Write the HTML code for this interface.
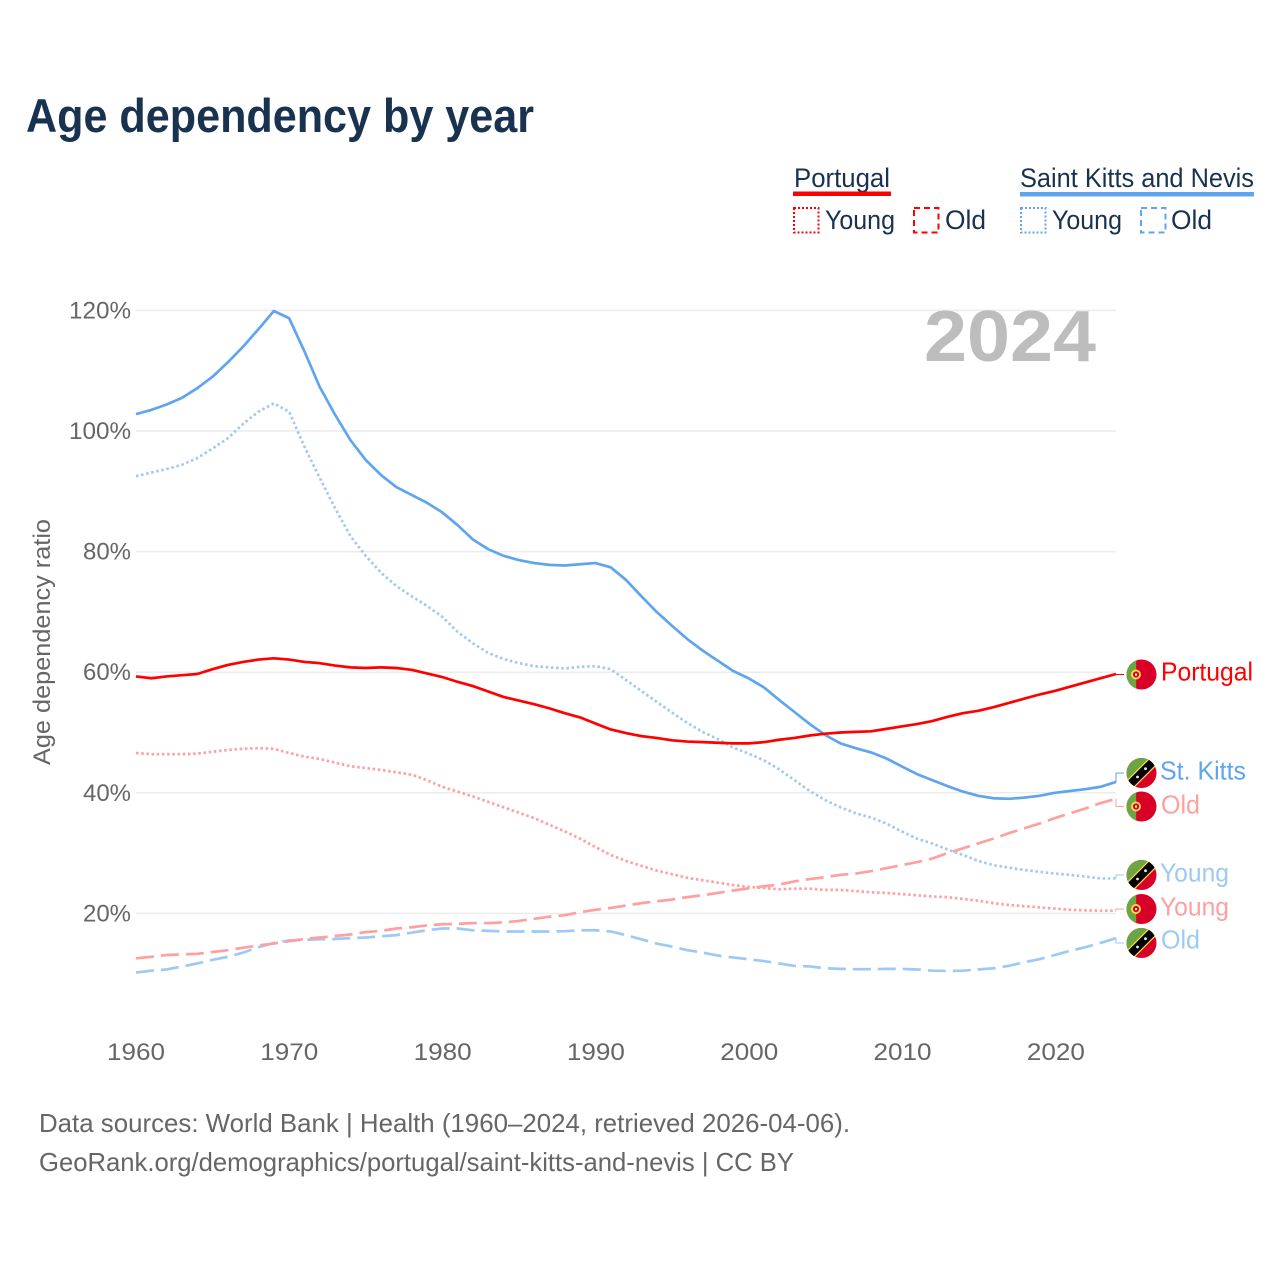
<!DOCTYPE html>
<html lang="en">
<head>
<meta charset="utf-8">
<title>Age dependency by year</title>
<style>
html,body{margin:0;padding:0;background:#fff;}
svg{display:block;font-family:"Liberation Sans",sans-serif;}
</style>
</head>
<body>
<svg id="chart" width="1280" height="1280" viewBox="0 0 1280 1280" xmlns="http://www.w3.org/2000/svg">
  <rect width="1280" height="1280" fill="#fff"/>
  <text x="26" y="132" font-size="47" font-weight="bold" fill="#18324f" textLength="508" lengthAdjust="spacingAndGlyphs">Age dependency by year</text>

  <g font-size="27" fill="#18324f">
    <text x="794" y="187" textLength="96" lengthAdjust="spacingAndGlyphs">Portugal</text>
    <rect x="793" y="191.5" width="98" height="4.5" fill="#ff0000"/>
    <rect x="794" y="208" width="24.5" height="24.5" fill="none" stroke="#ff0000" stroke-width="2" stroke-dasharray="2 2"/>
    <text x="825" y="229" textLength="70" lengthAdjust="spacingAndGlyphs">Young</text>
    <rect x="914" y="208" width="24.5" height="24.5" fill="none" stroke="#ff0000" stroke-width="2" stroke-dasharray="6 4"/>
    <text x="945" y="229" textLength="41" lengthAdjust="spacingAndGlyphs">Old</text>
    <text x="1020" y="187" textLength="234" lengthAdjust="spacingAndGlyphs">Saint Kitts and Nevis</text>
    <rect x="1020" y="192" width="234" height="4.5" fill="#5fa5ee"/>
    <rect x="1021" y="208" width="24.5" height="24.5" fill="none" stroke="#5fa5ee" stroke-width="2" stroke-dasharray="2 2"/>
    <text x="1052" y="229" textLength="70" lengthAdjust="spacingAndGlyphs">Young</text>
    <rect x="1141" y="208" width="24.5" height="24.5" fill="none" stroke="#5fa5ee" stroke-width="2" stroke-dasharray="6 4"/>
    <text x="1171" y="229" textLength="41" lengthAdjust="spacingAndGlyphs">Old</text>
  </g>

  <g id="grid"></g>
  <g id="ticks" font-size="24" fill="#666"></g>
  <text transform="translate(50,642) rotate(-90)" text-anchor="middle" font-size="24" fill="#666" textLength="246" lengthAdjust="spacingAndGlyphs">Age dependency ratio</text>
  <text x="924" y="361" font-size="72" font-weight="bold" fill="#bdbdbd" textLength="172" lengthAdjust="spacingAndGlyphs">2024</text>

  <g id="series"></g>
  <g id="connectors"></g>

  <defs>
    <clipPath id="flag-clip"><circle cx="0" cy="0" r="15"/></clipPath>
    <g id="flag-pt">
      <g clip-path="url(#flag-clip)">
        <rect x="-15" y="-15" width="30" height="30" fill="#d80027"/>
        <rect x="-15" y="-15" width="9.7" height="30" fill="#6da544"/>
      </g>
      <circle cx="-5.5" cy="0" r="5" fill="#ffda44"/>
      <circle cx="-5.5" cy="0" r="3.1" fill="#d80027"/>
      <rect x="-6.5" y="-1" width="2" height="2.2" fill="#eee"/>
    </g>
    <g id="flag-kn">
      <g clip-path="url(#flag-clip)">
        <rect x="-15" y="-15" width="30" height="30" fill="#d80027"/>
        <polygon points="-15,-15 15,-15 -15,15" fill="#6da544"/>
        <polygon points="-16,8.5 8.5,-16 16,-8.5 -8.5,16" fill="#ffda44"/>
        <polygon points="-16,10.3 10.3,-16 16,-10.3 -10.3,16" fill="#000"/>
      </g>
      <circle cx="-4" cy="4" r="1.4" fill="#eee"/>
      <circle cx="4" cy="-4.3" r="1.4" fill="#eee"/>
    </g>
  </defs>

  <g font-size="26">
    <use href="#flag-pt" x="1141.5" y="674.5"/>
    <text x="1161" y="680.5" fill="#ff0000" textLength="92" lengthAdjust="spacingAndGlyphs">Portugal</text>
    <use href="#flag-kn" x="1141.5" y="773"/>
    <text x="1160" y="779.5" fill="#5fa5ee" textLength="86" lengthAdjust="spacingAndGlyphs">St. Kitts</text>
    <use href="#flag-pt" x="1141.5" y="806.5"/>
    <text x="1161" y="813.5" fill="#ff9f9f" textLength="39" lengthAdjust="spacingAndGlyphs">Old</text>
    <use href="#flag-kn" x="1141.5" y="875"/>
    <text x="1160" y="881.5" fill="#9fc9f5" textLength="69" lengthAdjust="spacingAndGlyphs">Young</text>
    <use href="#flag-pt" x="1141.5" y="909"/>
    <text x="1160" y="915.5" fill="#ff9f9f" textLength="69" lengthAdjust="spacingAndGlyphs">Young</text>
    <use href="#flag-kn" x="1141.5" y="943"/>
    <text x="1161" y="948.5" fill="#9fc9f5" textLength="39" lengthAdjust="spacingAndGlyphs">Old</text>
  </g>

  <g font-size="26" fill="#666">
    <text x="39" y="1132" textLength="811" lengthAdjust="spacingAndGlyphs">Data sources: World Bank | Health (1960–2024, retrieved 2026-04-06).</text>
    <text x="39" y="1171" textLength="755" lengthAdjust="spacingAndGlyphs">GeoRank.org/demographics/portugal/saint-kitts-and-nevis | CC BY</text>
  </g>
</svg>
<script>
const years = [
  1960,1961,1962,1963,1964,1965,1966,1967,1968,1969,
  1970,1971,1972,1973,1974,1975,1976,1977,1978,1979,
  1980,1981,1982,1983,1984,1985,1986,1987,1988,1989,
  1990,1991,1992,1993,1994,1995,1996,1997,1998,1999,
  2000,2001,2002,2003,2004,2005,2006,2007,2008,2009,
  2010,2011,2012,2013,2014,2015,2016,2017,2018,2019,
  2020,2021,2022,2023,2024];
const xTickLabels = [1960,1970,1980,1990,2000,2010,2020];
const yTickLabels = [20,40,60,80,100,120];

const portugalTotal = [
  59.3,59,59.3,59.5,59.7,60.5,61.2,61.7,62.1,62.3,
  62.1,61.7,61.5,61.1,60.8,60.7,60.8,60.7,60.4,59.8,
  59.2,58.4,57.7,56.8,55.9,55.3,54.7,54,53.2,52.5,
  51.5,50.5,49.9,49.4,49.1,48.7,48.5,48.4,48.3,48.2,
  48.2,48.4,48.8,49.1,49.5,49.8,50,50.1,50.2,50.6,
  51,51.4,51.9,52.6,53.2,53.6,54.2,54.9,55.6,56.3,
  56.9,57.6,58.3,59,59.7];
const portugalYoung = [
  46.6,46.4,46.4,46.4,46.5,46.8,47.1,47.3,47.4,47.3,
  46.6,46,45.6,45,44.4,44.1,43.8,43.4,43,42.1,
  41,40.2,39.4,38.5,37.6,36.7,35.8,34.7,33.6,32.4,
  31,29.7,28.7,27.9,27.1,26.5,25.9,25.5,25.1,24.7,
  24.4,24.2,24,24.1,24.1,23.9,23.9,23.7,23.5,23.4,
  23.2,23,22.8,22.7,22.4,22.1,21.7,21.4,21.2,21,
  20.8,20.6,20.5,20.45,20.45];
const portugalOld = [
  12.55,12.8,13.1,13.2,13.3,13.6,13.9,14.3,14.7,15,
  15.4,15.75,16,16.25,16.5,16.9,17.1,17.5,17.7,18,
  18.2,18.25,18.4,18.4,18.5,18.75,19.1,19.45,19.7,20.2,
  20.6,20.9,21.3,21.7,22,22.3,22.7,23,23.4,23.8,
  24.15,24.5,24.8,25.3,25.7,26,26.4,26.6,27,27.5,
  28,28.5,29.1,30,30.8,31.6,32.4,33.3,34.1,34.9,
  35.8,36.6,37.4,38.3,39];
const kittsTotal = [
  102.8,103.5,104.4,105.5,107.1,109,111.4,114,116.9,119.9,
  118.7,113.2,107.3,102.7,98.5,95.2,92.7,90.7,89.4,88.1,
  86.5,84.4,82,80.4,79.3,78.6,78.1,77.8,77.7,77.9,
  78.1,77.4,75.3,72.6,70,67.7,65.5,63.6,61.9,60.2,
  59,57.5,55.4,53.4,51.4,49.6,48.2,47.4,46.7,45.7,
  44.4,43.1,42.1,41.1,40.2,39.5,39.1,39,39.2,39.5,
  40,40.3,40.6,41,41.8];
const kittsYoung = [
  92.5,93.1,93.7,94.4,95.5,97.1,98.8,101.2,103.2,104.6,
  103.2,97.4,92.2,87.2,82.6,79.3,76.5,74.3,72.6,71,
  69.2,66.7,64.8,63.2,62.2,61.5,61,60.8,60.6,60.9,
  61,60.5,58.7,56.9,55.1,53.3,51.6,50.1,48.9,47.5,
  46.5,45.4,43.9,42.1,40.3,38.8,37.6,36.6,35.9,34.9,
  33.6,32.4,31.6,30.6,29.7,28.7,28,27.6,27.2,26.9,
  26.6,26.4,26.1,25.8,25.8];
const kittsOld = [
  10.2,10.5,10.7,11.2,11.7,12.3,12.8,13.5,14.4,15.1,
  15.5,15.6,15.7,15.75,15.9,16,16.2,16.4,16.8,17.2,
  17.5,17.5,17.2,17.1,17,17,17,17,17.05,17.2,
  17.2,17,16.4,15.7,15,14.5,13.9,13.5,13,12.7,
  12.4,12.1,11.7,11.3,11.2,10.9,10.8,10.75,10.75,10.8,
  10.8,10.7,10.5,10.45,10.5,10.7,10.9,11.3,11.9,12.4,
  13.1,13.8,14.4,15.1,15.9];

const NS = 'http://www.w3.org/2000/svg';
const xScale = year => 136 + (year - 1960) * (1116 - 136) / 64;
const yScale = value => 1034 - value * 6.03;

const gridLayer = document.getElementById('grid');
const tickLayer = document.getElementById('ticks');
const seriesLayer = document.getElementById('series');
const connectorLayer = document.getElementById('connectors');

yTickLabels.forEach(function (tick) {
  const line = document.createElementNS(NS, 'line');
  
  
  line.setAttribute('x1', 136);
  line.setAttribute('x2', 1116);
  line.setAttribute('y1', yScale(tick));
  line.setAttribute('y2', yScale(tick));
  line.setAttribute('stroke', '#ececec');
  line.setAttribute('stroke-width', 1.5);
  gridLayer.appendChild(line);
  const label = document.createElementNS(NS, 'text');
  
  
  label.setAttribute('x', 131);
  label.setAttribute('y', yScale(tick) + 8);
  label.setAttribute('text-anchor', 'end');
  label.setAttribute('textLength', tick >= 100 ? 62 : 48);
  label.setAttribute('lengthAdjust', 'spacingAndGlyphs');
  label.textContent = tick + '%';
  tickLayer.appendChild(label);
});

xTickLabels.forEach(function (tick) {
  const label = document.createElementNS(NS, 'text');
  
  
  label.setAttribute('x', xScale(tick) + (tick - 1960) * 0.018);
  label.setAttribute('y', 1060);
  label.setAttribute('text-anchor', 'middle');
  label.setAttribute('textLength', 58);
  label.setAttribute('lengthAdjust', 'spacingAndGlyphs');
  label.textContent = tick;
  tickLayer.appendChild(label);
});

function drawSeries(name, values, colour, dash, width, labelY) {
  const path = document.createElementNS(NS, 'path');
  
  
  path.setAttribute('d', values.map(function (v, i) {
    return (i ? 'L' : 'M') + xScale(years[i]).toFixed(2) + ' ' + yScale(v).toFixed(2);
  }).join(''));
  path.setAttribute('fill', 'none');
  path.setAttribute('stroke', colour);
  path.setAttribute('stroke-width', width);
  path.setAttribute('stroke-linejoin', 'round');
  if (dash) path.setAttribute('stroke-dasharray', dash);
  seriesLayer.appendChild(path);

  const last = values.length - 1;
  const endX = xScale(years[last]);
  const endY = yScale(values[last]);
  const connector = document.createElementNS(NS, 'path');
  
  
  connector.setAttribute('d', 'M' + endX + ' ' + endY + 'V' + labelY + 'H' + (endX + 8));
  connector.setAttribute('fill', 'none');
  connector.setAttribute('stroke', colour);
  connector.setAttribute('stroke-width', 1);
  connectorLayer.appendChild(connector);
}

drawSeries('line-saint-kitts-old', kittsOld, '#9fc9f5', '18 7', 2.7, 943);
drawSeries('line-portugal-old', portugalOld, '#ff9f9f', '18 7', 2.7, 806.5);
drawSeries('line-portugal-young', portugalYoung, '#ff9f9f', '2.5 2.7', 2.7, 909);
drawSeries('line-saint-kitts-young', kittsYoung, '#9fc9f5', '2.5 2.7', 2.7, 875);
drawSeries('line-saint-kitts-total', kittsTotal, '#5fa5ee', '', 2.7, 773);
drawSeries('line-portugal-total', portugalTotal, '#ff0000', '', 2.7, 674.5);
</script>
</body>
</html>
